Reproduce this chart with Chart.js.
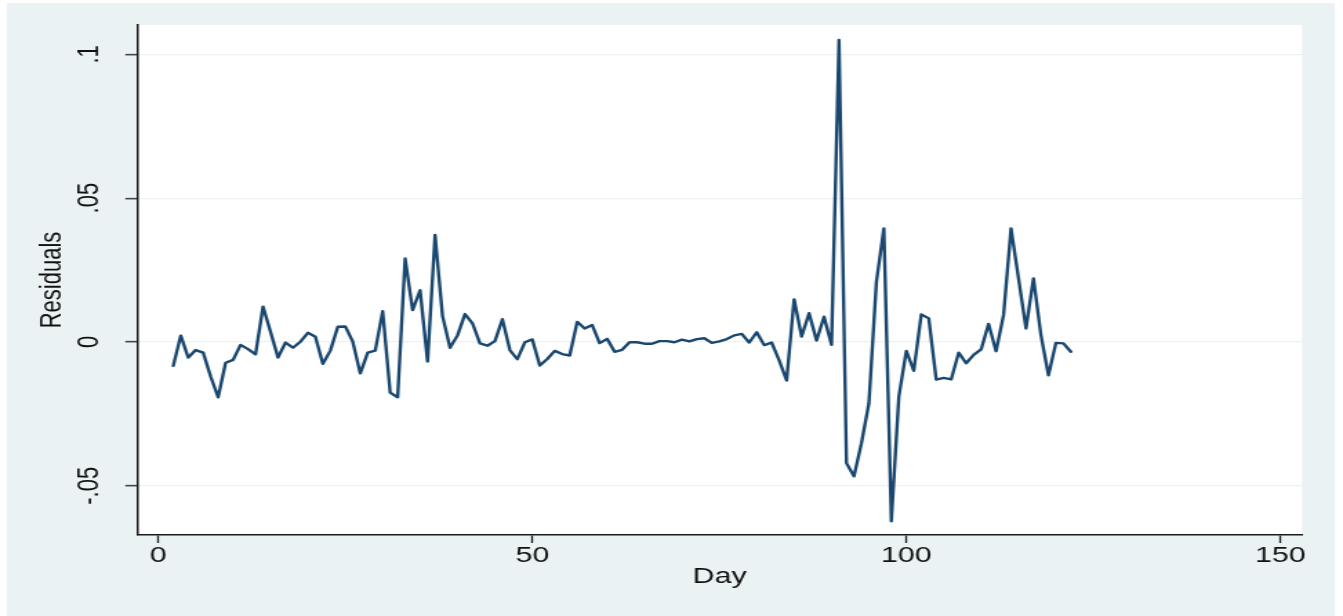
<!DOCTYPE html>
<html>
<head>
<meta charset="utf-8">
<script src="https://cdn.jsdelivr.net/npm/chart.js@4/dist/chart.umd.min.js"></script>
<style>
  html, body { margin: 0; padding: 0; background: #ffffff; overflow: hidden; }
  #c { display: block; }
</style>
</head>
<body>
<canvas id="c" width="973" height="616" style="width:1343px;height:616px;display:block;"></canvas>
<script>
// ---- data ----
const days = [
  2, 3, 4, 5, 6, 7, 8, 9, 10, 11, 12, 13, 14, 15, 16, 17, 18, 19, 20, 21,
  22, 23, 24, 25, 26, 27, 28, 29, 30, 31, 32, 33, 34, 35, 36, 37, 38, 39, 40, 41,
  42, 43, 44, 45, 46, 47, 48, 49, 50, 51, 52, 53, 54, 55, 56, 57, 58, 59, 60, 61,
  62, 63, 64, 65, 66, 67, 68, 69, 70, 71, 72, 73, 74, 75, 76, 77, 78, 79, 80, 81,
  82, 83, 84, 85, 86, 87, 88, 89, 90, 91, 92, 93, 94, 95, 96, 97, 98, 99, 100, 101,
  102, 103, 104, 105, 106, 107, 108, 109, 110, 111, 112, 113, 114, 115, 116, 117, 118, 119, 120, 121,
  122
];
const residuals = [
  -0.0083, 0.0022, -0.0054, -0.0028, -0.0037, -0.0120, -0.0192, -0.0072, -0.0062, -0.0010,
  -0.0025, -0.0043, 0.0123, 0.0036, -0.0054, -0.0002, -0.0020, 0.0001, 0.0032, 0.0018,
  -0.0076, -0.0030, 0.0053, 0.0054, 0.0001, -0.0109, -0.0037, -0.0030, 0.0107, -0.0176,
  -0.0192, 0.0290, 0.0111, 0.0180, -0.0068, 0.0372, 0.0090, -0.0020, 0.0023, 0.0097,
  0.0065, -0.0005, -0.0013, 0.0003, 0.0079, -0.0028, -0.0060, -0.0001, 0.0009, -0.0082,
  -0.0059, -0.0031, -0.0042, -0.0047, 0.0070, 0.0047, 0.0059, -0.0004, 0.0011, -0.0034,
  -0.0027, -0.0001, -0.0001, -0.0006, -0.0006, 0.0003, 0.0003, -0.0001, 0.0008, 0.0002,
  0.0010, 0.0013, -0.0003, 0.0002, 0.0010, 0.0023, 0.0028, -0.0002, 0.0034, -0.0011,
  -0.0002, -0.0064, -0.0134, 0.0148, 0.0019, 0.0100, 0.0005, 0.0088, -0.0010, 0.1050,
  -0.0421, -0.0467, -0.0352, -0.0213, 0.0209, 0.0395, -0.0623, -0.0190, -0.0031, -0.0100,
  0.0096, 0.0082, -0.0131, -0.0125, -0.0130, -0.0037, -0.0074, -0.0045, -0.0026, 0.0063,
  -0.0032, 0.0094, 0.0395, 0.0221, 0.0047, 0.0221, 0.0024, -0.0116, -0.0003, -0.0005,
  -0.0034
];
const xTickValues = [0, 50, 100, 150];
const xTickLabels = ['0', '50', '100', '150'];
const yTickValues = [-0.05, 0, 0.05, 0.1];
const yTickLabels = ['-.05', '0', '.05', '.1'];
const xTitle = 'Day';
const yTitle = 'Residuals';

// ---- styling ----
const FONT = '"Liberation Sans", Arial, Helvetica, sans-serif';
const OUTER_BG = 'rgb(234,242,243)';
const LINE_COLOR = 'rgb(26,71,111)';
const AXIS_COLOR = '#1a1a1a';
const TEXT_COLOR = '#111111';

const bgPlugin = {
  id: 'stataBackground',
  beforeDraw(chart) {
    const ctx = chart.ctx;
    const a = chart.chartArea;
    ctx.save();
    ctx.fillStyle = '#ffffff';
    ctx.fillRect(0, 0, chart.width, chart.height);
    ctx.fillStyle = OUTER_BG;
    ctx.fillRect(5, 3, 962, chart.height - 3);
    ctx.fillStyle = '#ffffff';
    ctx.fillRect(a.left, a.top, a.right - a.left, a.bottom - a.top);
    ctx.restore();
  }
};

const points = days.map((d, i) => ({ x: d, y: residuals[i] }));

const canvas = document.getElementById('c');
new Chart(canvas, {
  type: 'line',
  data: {
    datasets: [{
      label: yTitle,
      data: points,
      borderColor: LINE_COLOR,
      borderWidth: 2.4,
      pointRadius: 0,
      pointHoverRadius: 0,
      tension: 0,
      fill: false,
      borderJoinStyle: 'round',
      borderCapStyle: 'round'
    }]
  },
  options: {
    responsive: false,
    animation: false,
    devicePixelRatio: 1,
    events: [],
    layout: { padding: { left: 0, top: 25, right: 29.7, bottom: 0 } },
    plugins: {
      legend: { display: false },
      tooltip: { enabled: false },
      title: { display: false }
    },
    scales: {
      x: {
        type: 'linear',
        position: 'bottom',
        min: -2.8,
        max: 152.9,
        afterBuildTicks(scale) { scale.ticks = xTickValues.map(v => ({ value: v })); },
        afterFit(scale) { scale.height = 81; },
        grid: {
          display: true,
          drawOnChartArea: false,
          drawTicks: true,
          tickLength: 8,
          tickColor: AXIS_COLOR,
          tickWidth: 1.3
        },
        border: { display: true, color: AXIS_COLOR, width: 1.5 },
        ticks: {
          padding: 0,
          maxRotation: 0,
          minRotation: 0,
          autoSkip: false,
          color: TEXT_COLOR,
          font: { family: FONT, size: 22 },
          callback(value) {
            const i = xTickValues.indexOf(value);
            return i >= 0 ? xTickLabels[i] : '';
          }
        },
        title: {
          display: true,
          text: xTitle,
          color: TEXT_COLOR,
          font: { family: FONT, size: 22 },
          padding: { top: 0, bottom: 25.8 }
        }
      },
      y: {
        type: 'linear',
        position: 'left',
        min: -0.0671,
        max: 0.1102,
        afterBuildTicks(scale) { scale.ticks = yTickValues.map(v => ({ value: v })); },
        afterFit(scale) { scale.width = 99.5; },
        grid: {
          display: true,
          drawOnChartArea: true,
          drawTicks: true,
          color: OUTER_BG,
          lineWidth: 1.3,
          tickLength: 8.7,
          tickColor: '#444444',
          tickWidth: 1.6
        },
        border: { display: true, color: AXIS_COLOR, width: 1.5 },
        ticks: {
          padding: 7.1,
          minRotation: 90,
          maxRotation: 90,
          crossAlign: 'center',
          autoSkip: false,
          color: TEXT_COLOR,
          font: { family: FONT, size: 22 },
          callback(value) {
            const i = yTickValues.indexOf(value);
            return i >= 0 ? yTickLabels[i] : '';
          }
        },
        title: {
          display: true,
          text: yTitle,
          color: TEXT_COLOR,
          font: { family: FONT, size: 22 },
          padding: { top: 24.3, bottom: 0 }
        }
      }
    }
  },
  plugins: [bgPlugin]
});
canvas.style.width = '1343px';
canvas.style.height = '616px';
</script>
</body>
</html>
